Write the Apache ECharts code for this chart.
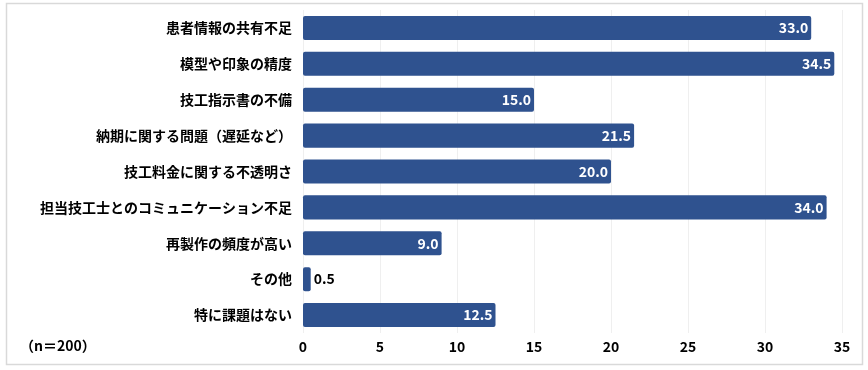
<!DOCTYPE html>
<html><head><meta charset="utf-8">
<script src="https://cdn.jsdelivr.net/npm/echarts@6/dist/echarts.min.js"></script>
<style>html,body{margin:0;padding:0;background:#fff}#c{width:868px;height:370px}</style>
</head><body><div id="c"></div>
<script>
const categories = ["患者情報の共有不足","模型や印象の精度","技工指示書の不備","納期に関する問題（遅延など）","技工料金に関する不透明さ","担当技工士とのコミュニケーション不足","再製作の頻度が高い","その他","特に課題はない"];
const values = [33.0,34.5,15.0,21.5,20.0,34.0,9.0,0.5,12.5];
const xTicks = {min:0,max:35,interval:5};
const note = "（n＝200）";

const font = '"Noto Sans CJK JP", "Noto Sans", sans-serif';
const chart = echarts.init(document.getElementById('c'));
chart.setOption({
  animation:false,
  graphic:[
    {type:'rect',shape:{x:6.5,y:3.5,width:856,height:361},style:{fill:'none',stroke:'#d9d9d9',lineWidth:1.5}},
    {type:'text',left:20,top:339,style:{text:note,font:'bold 14px '+font,fill:'#000'}}
  ],
  grid:{left:303,right:26,top:10,bottom:37,containLabel:false},
  xAxis:{type:'value',min:xTicks.min,max:xTicks.max,interval:xTicks.interval,
    axisLine:{show:false},axisTick:{show:false},
    splitLine:{lineStyle:{color:'#efefef',width:1}},
    axisLabel:{color:'#000',fontWeight:'bold',fontSize:14,fontFamily:font,margin:7}},
  yAxis:{type:'category',data:categories,inverse:true,
    axisLine:{show:false},axisTick:{show:false},
    axisLabel:{color:'#000',fontWeight:'bold',fontSize:14,fontFamily:font,margin:11}},
  series:[{type:'bar',data:values.map(v=>({value:v,label:v<3?{position:'right',color:'#000'}:{}})),
    barCategoryGap:'33%',
    itemStyle:{color:'#2F528F',borderRadius:2},
    label:{show:true,position:'insideRight',color:'#fff',fontWeight:'bold',fontSize:14,fontFamily:font,
      formatter:p=>p.value.toFixed(1),distance:3}}]
});
</script></body></html>
